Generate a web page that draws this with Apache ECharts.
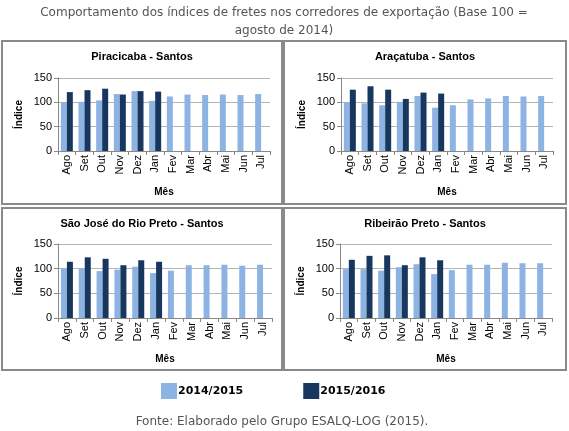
<!DOCTYPE html>
<html>
<head>
<meta charset="utf-8">
<script src="https://cdn.jsdelivr.net/npm/echarts@6/dist/echarts.min.js"></script>
<style>
  html, body { margin: 0; padding: 0; background: #fff; }
  #chart { width: 569px; height: 431px; }
</style>
</head>
<body>
<div id="chart"></div>
<script>
// meses (agosto a julho)
var months = ['Ago', 'Set', 'Out', 'Nov', 'Dez', 'Jan', 'Fev', 'Mar', 'Abr', 'Mai', 'Jun', 'Jul'];
var seriesNames = ['2014/2015', '2015/2016'];
var panelTitles = ['Piracicaba - Santos', 'Araçatuba - Santos', 'São José do Rio Preto - Santos', 'Ribeirão Preto - Santos'];

// índices
var piracicaba1415 = [100, 101, 104, 117, 123, 103, 112, 116, 115, 116, 115, 117];
var piracicaba1516 = [121, 125, 128, 116, 123, 122, null, null, null, null, null, null];
var aracatuba1415 = [100, 98, 94, 101, 113, 89, 94, 106, 108, 113, 112, 113];
var aracatuba1516 = [126, 133, 126, 107, 120, 118, null, null, null, null, null, null];
var rioPreto1415 = [100, 100, 95, 98, 104, 91, 96, 107, 107, 108, 106, 108];
var rioPreto1516 = [114, 123, 120, 107, 117, 114, null, null, null, null, null, null];
var ribeirao1415 = [99, 99, 96, 103, 109, 89, 97, 108, 108, 112, 111, 111];
var ribeirao1516 = [118, 126, 127, 107, 123, 117, null, null, null, null, null, null];

var light = '#8db3e2';
var dark = '#17375e';

var panelData = [
    [piracicaba1415, piracicaba1516],
    [aracatuba1415, aracatuba1516],
    [rioPreto1415, rioPreto1516],
    [ribeirao1415, ribeirao1516]
];

// caixas e áreas de plotagem de cada painel
var boxes = [
    { x: 2, y: 41, w: 280, h: 163 },
    { x: 284, y: 41, w: 282, h: 163 },
    { x: 2, y: 208, w: 280, h: 162 },
    { x: 284, y: 208, w: 282, h: 162 }
];
var grids = [
    { left: 58, top: 78, width: 212, height: 73 },
    { left: 341, top: 78, width: 212, height: 73 },
    { left: 58, top: 244, width: 214, height: 74 },
    { left: 340, top: 244, width: 212, height: 74 }
];

var myChart = echarts.init(document.getElementById('chart'));

var option = {
    animation: false,
    textStyle: { fontFamily: 'Liberation Sans' },
    legend: {
        data: seriesNames,
        top: 378,
        left: 156,
        itemGap: 60,
        itemWidth: 16,
        itemHeight: 16,
        icon: 'rect',
        textStyle: { fontFamily: 'DejaVu Sans', fontSize: 11, fontWeight: 'bold', color: '#000', padding: [0, 0, 0, -4] }
    },
    grid: [],
    xAxis: [],
    yAxis: [],
    series: [],
    graphic: [{
        type: 'text',
        x: 284,
        y: 4,
        style: {
            text: 'Comportamento dos índices de fretes nos corredores de exportação (Base 100 =\nagosto de 2014)',
            fontFamily: 'DejaVu Sans',
            fontSize: 12,
            lineHeight: 18,
            fill: '#555',
            align: 'center'
        },
        silent: true
    }, {
        type: 'text',
        x: 282,
        y: 416,
        style: {
            text: 'Fonte: Elaborado pelo Grupo ESALQ-LOG (2015).',
            fontFamily: 'DejaVu Sans',
            fontSize: 12,
            fill: '#555',
            align: 'center'
        },
        silent: true
    }]
};

boxes.forEach(function (b, i) {
    option.graphic.push({
        type: 'rect',
        shape: { x: b.x, y: b.y, width: b.w, height: b.h },
        style: { fill: 'none', stroke: '#8a8a8a', lineWidth: 2 },
        silent: true
    });
    option.graphic.push({
        type: 'text',
        x: b.x + b.w / 2,
        y: b.y + 16,
        style: {
            text: panelTitles[i],
            fontFamily: 'Liberation Sans',
            fontSize: 11,
            fontWeight: 'bold',
            fill: '#000',
            align: 'center',
            verticalAlign: 'middle'
        },
        silent: true
    });
});

grids.forEach(function (g, i) {
    option.grid.push({ left: g.left, top: g.top, width: g.width, height: g.height });
    option.xAxis.push({
        type: 'category',
        gridIndex: i,
        data: months,
        name: 'Mês',
        nameLocation: 'middle',
        nameGap: 36,
        nameTextStyle: { fontSize: 10, fontWeight: 'bold', color: '#000' },
        axisLine: { lineStyle: { color: '#888' } },
        axisTick: { show: true, length: 4, lineStyle: { color: '#888' } },
        axisLabel: { rotate: 90, fontSize: 11, color: '#000', margin: 4 }
    });
    option.yAxis.push({
        type: 'value',
        gridIndex: i,
        min: 0,
        max: 150,
        interval: 50,
        name: 'Índice',
        nameLocation: 'middle',
        nameRotate: 90,
        nameGap: 34,
        nameTextStyle: { fontSize: 10, fontWeight: 'bold', color: '#000' },
        axisLine: { show: true, lineStyle: { color: '#888' } },
        axisTick: { show: true, length: 4, lineStyle: { color: '#888' } },
        splitLine: { lineStyle: { color: '#b4b4b4' } },
        axisLabel: { fontSize: 11, color: '#000', margin: 6 }
    });
    option.series.push({
        name: seriesNames[0],
        type: 'bar',
        xAxisIndex: i,
        yAxisIndex: i,
        data: panelData[i][0],
        barWidth: 6,
        barGap: '0%',
        itemStyle: { color: light }
    });
    option.series.push({
        name: seriesNames[1],
        type: 'bar',
        xAxisIndex: i,
        yAxisIndex: i,
        data: panelData[i][1],
        barWidth: 6,
        barGap: '0%',
        itemStyle: { color: dark }
    });
});

myChart.setOption(option);
</script>
</body>
</html>
